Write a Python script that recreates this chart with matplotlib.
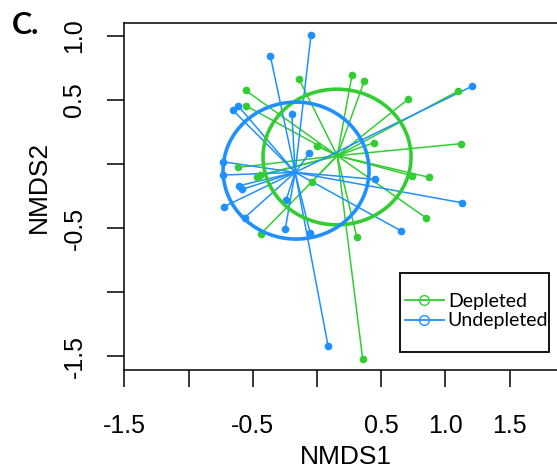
"""NMDS ordination: spider plot with group ellipses (Depleted vs Undepleted)"""
import matplotlib
matplotlib.use("Agg")
import matplotlib.pyplot as plt
from matplotlib.patches import Ellipse, Rectangle
from matplotlib.lines import Line2D

# site scores
depleted_x = [0.272, 0.368, -0.140, -0.555, -0.555, 0.711, 1.095, 0.444, 1.118, 0.002,
              -0.612, -0.469, -0.440, -0.041, 0.737, 0.874, 0.846, -0.438, 0.309, 0.356]
depleted_y = [0.693, 0.648, 0.664, 0.575, 0.456, 0.508, 0.568, 0.167, 0.159, 0.140,
              -0.026, -0.099, -0.085, -0.140, -0.091, -0.104, -0.419, -0.547, -0.568, -1.526]

undepleted_x = [-0.047, -0.363, 1.209, -0.656, -0.615, -0.195, -0.060, -0.734, -0.734, -0.605,
                -0.584, -0.724, -0.563, -0.241, -0.247, -0.054, 0.455, 1.126, 0.656, 0.086]
undepleted_y = [1.005, 0.844, 0.609, 0.422, 0.456, 0.390, 0.083, 0.018, -0.086, -0.169,
                -0.198, -0.333, -0.419, -0.284, -0.510, -0.536, -0.120, -0.302, -0.523, -1.419]

# group centroids and ellipse half-axes
centroid_depleted = (0.158, 0.065)
centroid_undepleted = (-0.170, -0.065)
ellipse_depleted = (0.156, 0.055, 0.576, 0.530)
ellipse_undepleted = (-0.163, -0.051, 0.568, 0.535)

x_ticks = [-1.5, -1.0, -0.5, 0.0, 0.5, 1.0, 1.5]
x_ticklabels = ['-1.5', '', '-0.5', '', '0.5', '1.0', '1.5']
y_ticks = [-1.5, -1.0, -0.5, 0.0, 0.5, 1.0]
y_ticklabels = ['-1.5', '', '-0.5', '', '0.5', '1.0']

GREEN = '#32CD32'
BLUE = '#1E90FF'

plt.rcParams['font.family'] = ['Liberation Sans', 'DejaVu Sans']

fig = plt.figure(figsize=(5.57, 4.69), dpi=100)
ax = fig.add_axes([124 / 557, 99 / 469, 433 / 557, 347 / 469])


def spider(xs, ys, centre, colour):
    for x, y in zip(xs, ys):
        ax.plot([centre[0], x], [centre[1], y], color=colour, lw=1.1, zorder=2)
    ax.plot(xs, ys, 'o', color=colour, ms=4.5, mec=colour, zorder=3)


spider(depleted_x, depleted_y, centroid_depleted, GREEN)
spider(undepleted_x, undepleted_y, centroid_undepleted, BLUE)

for (cx, cy, a, b), colour in [(ellipse_depleted, GREEN), (ellipse_undepleted, BLUE)]:
    ax.add_patch(Ellipse((cx, cy), 2 * a, 2 * b, fill=False, ec=colour, lw=2.6, zorder=4))

ax.set_xlim(-1.502, 1.868)
ax.set_ylim(-1.609, 1.102)
ax.set_xticks(x_ticks)
ax.set_xticklabels(x_ticklabels)
ax.set_yticks(y_ticks)
ax.set_yticklabels(y_ticklabels, rotation=90, va='center')
ax.tick_params(axis='both', direction='out', length=12, width=1.1, labelsize=18, colors='black')
ax.tick_params(axis='x', pad=20)
ax.tick_params(axis='y', pad=15)
for side in ['left', 'top', 'bottom']:
    ax.spines[side].set_linewidth(1.1)
ax.spines['right'].set_visible(False)

fig.text(346 / 557, 5 / 469, 'NMDS1', ha='center', va='baseline', fontsize=19)
fig.text(39 / 557, 1 - 187 / 469, 'NMDS2', ha='center', va='center', rotation=90, fontsize=19)
fig.text(12 / 557, 1 - 34 / 469, 'C.', ha='left', va='baseline', fontsize=22,
         fontweight='bold', family=['Lato', 'DejaVu Sans'])

# legend: frameless entries inside a hand-placed box
handles = [Line2D([], [], color=GREEN, marker='o', mfc='none', ms=7, lw=1.3),
           Line2D([], [], color=BLUE, marker='o', mfc='none', ms=7, lw=1.3)]
ax.legend(handles, ['Depleted', 'Undepleted'], loc='center left',
          bbox_to_anchor=(405 / 557, 1 - 311 / 469), bbox_transform=fig.transFigure,
          prop={'family': 'Lato', 'size': 14}, frameon=False,
          handlelength=2.0, handletextpad=0.2, labelspacing=0.15,
          borderpad=0, borderaxespad=0)
fig.patches.append(Rectangle((400 / 557, 1 - 352 / 469), 149 / 557, 79 / 469,
                             transform=fig.transFigure, fill=False, ec='black', lw=1.3))

fig.savefig('out.png', dpi=100)
